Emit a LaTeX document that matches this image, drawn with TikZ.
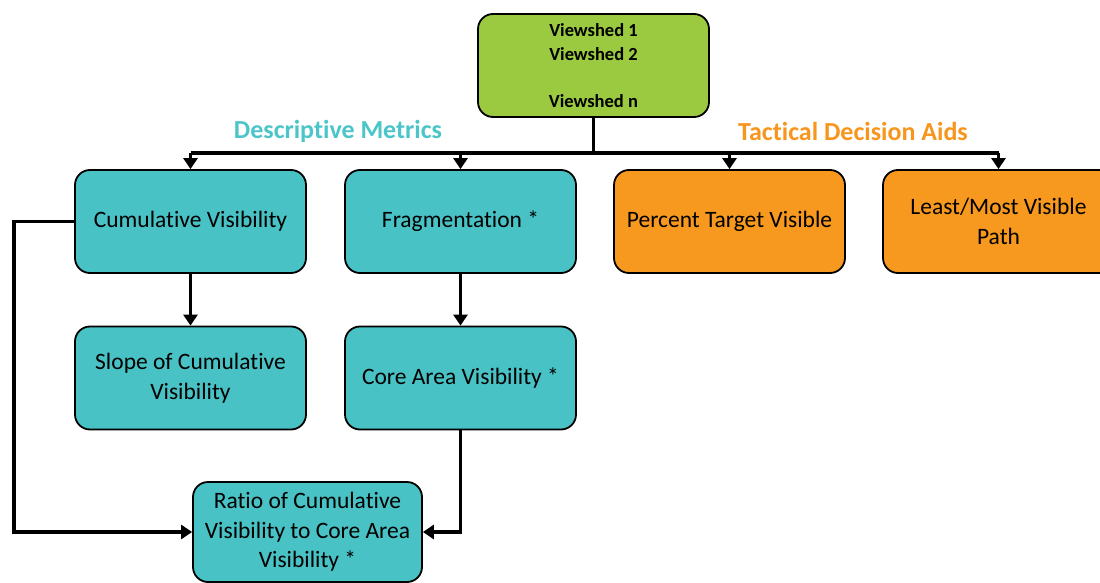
\documentclass[tikz,border=0pt]{standalone}
\usepackage{fontspec}
\setmainfont{Carlito}[Ligatures=CommonOff]
\usetikzlibrary{arrows.meta,calc}
\definecolor{tealfill}{HTML}{48C2C4}
\definecolor{greenfill}{HTML}{9BC93F}
\definecolor{orangefill}{HTML}{F7981F}
\definecolor{tealtext}{HTML}{4BC5C8}
\definecolor{orangetext}{HTML}{F7951D}
\tikzset{
  card/.style={draw=black, line width=1.8pt, rounded corners=15pt,
    minimum width=231pt, minimum height=103pt, inner sep=0pt,
    align=center, font=\fontsize{23.5}{29.5}\selectfont},
  metric/.style={card, fill=tealfill},
  aid/.style={card, fill=orangefill},
  source/.style={card, fill=greenfill, font=\fontsize{18.5}{23.5}\selectfont\bfseries},
  heading/.style={font=\fontsize{26}{30}\selectfont\bfseries},
  link/.style={line width=3.8pt},
  arrowlink/.style={link, -{Triangle[length=11pt,width=14pt]}}
}
\begin{document}
\begin{tikzpicture}[x=1pt,y=-1pt]
\useasboundingbox (0,0) rectangle (1100,583);

% source viewsheds
\node[source] (src) at (593.5,65.5) {Viewshed 1\\Viewshed 2\\[23.5pt]Viewshed n};

% first row
\node[metric] (cum)   at (190.5,221.5) {Cumulative Visibility};
\node[metric] (frag)  at (460.5,221.5) {Fragmentation *};
\node[aid]    (pct)   at (729.5,221.5) {Percent Target Visible};
\node[aid]    (path)  at (998.5,221.5) {Least/Most Visible\\Path};

% second row
\node[metric] (slope) at (190.5,378) {Slope of Cumulative\\Visibility};
\node[metric] (core)  at (460.5,378) {Core Area Visibility *};

% combined metric
\node[metric, minimum width=229pt, minimum height=100pt] (ratio) at (307.5,532)
  {Ratio of Cumulative\\Visibility to Core Area\\Visibility *};

% group headings
\node[heading, text=tealtext]   (hdesc) at (338,131) {Descriptive Metrics};
\node[heading, text=orangetext] (htac)  at (853,131) {Tactical Decision Aids};

% distribution bus
\coordinate (bus) at (593.5,153);
\draw[link] (src.south) -- (bus);
\draw[link] (cum.north |- bus) -- (path.north |- bus);
\foreach \n in {cum,frag,pct,path}
  \draw[arrowlink] (\n.north |- bus) -- (\n.north);

% derived metrics
\draw[arrowlink] (cum.south) -- (slope.north);
\draw[arrowlink] (frag.south) -- (core.north);

\coordinate (loop) at (14,221.5);
\draw[arrowlink] (cum.west) -- (loop) |- (ratio.west);
\draw[arrowlink] (core.south) |- (ratio.east);
\end{tikzpicture}
\end{document}
